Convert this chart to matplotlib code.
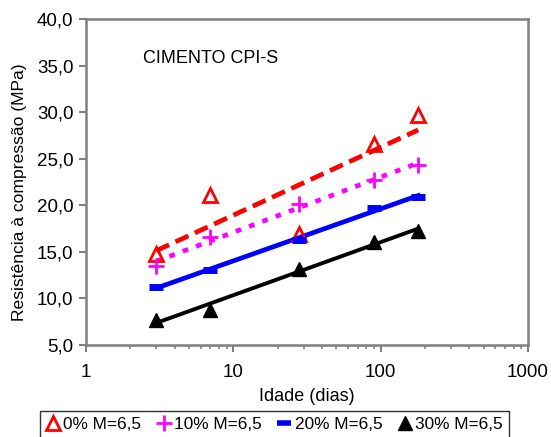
import numpy as np
import matplotlib
matplotlib.use("Agg")
import matplotlib.pyplot as plt
from matplotlib.lines import Line2D
from matplotlib.ticker import FixedLocator, FuncFormatter, LogLocator, NullFormatter

plt.rcParams['font.family'] = ['Liberation Sans', 'DejaVu Sans']

idade = [3, 7, 28, 90, 180]
s0 = [14.8, 21.1, 16.9, 26.6, 29.7]
s10 = [13.5, 16.6, 20.1, 22.7, 24.3]
s20 = [11.2, 13.1, 16.3, 19.7, 20.9]
s30 = [7.7, 8.8, 13.2, 16.1, 17.2]
labels = ['0% M=6,5', '10% M=6,5', '20% M=6,5', '30% M=6,5']
yticks = [5, 10, 15, 20, 25, 30, 35, 40]
xticks = [1, 10, 100, 1000]

fig = plt.figure(figsize=(5.51, 4.37), dpi=100)
ax = fig.add_axes([0.156, 0.2105, 0.802, 0.746])

x = np.array(idade, dtype=float)
lx = np.log10(x)

def trend(y):
    a, b = np.polyfit(lx, np.array(y), 1)
    return a * lx + b

# trend lines
ax.plot(x, trend(s0), color='#ff0000', lw=3.4, linestyle=(0, (3, 1.5)), zorder=2)
ax.plot(x, trend(s10), color='#ff00ff', lw=3.4, linestyle=(0, (1.2, 1.8)), zorder=2)
ax.plot(x, trend(s20), color='#0000ff', lw=3.4, zorder=2)
ax.plot(x, trend(s30), color='#000000', lw=2.8, zorder=2)

# markers
ax.plot(x, s0, ls='none', marker='^', ms=9.5, mfc='none', mec='#ff0000', mew=2, zorder=3)
ax.plot(x, s10, ls='none', marker='+', ms=11, mec='#ff00ff', mew=2, zorder=3)
ax.plot(x, s20, ls='none', marker='_', ms=10, mec='#0000ff', mew=5, zorder=3)
ax.plot(x, s30, ls='none', marker='^', ms=10, mfc='#000000', mec='#000000', mew=1, zorder=3)

ax.set_xscale('log')
ax.set_xlim(1, 1000)
ax.set_ylim(5, 40)
ax.xaxis.set_major_locator(FixedLocator(xticks))
ax.xaxis.set_major_formatter(FuncFormatter(lambda v, p: f'{v:g}'))
ax.xaxis.set_minor_locator(LogLocator(base=10, subs=np.arange(2, 10)))
ax.xaxis.set_minor_formatter(NullFormatter())
ax.yaxis.set_major_locator(FixedLocator(yticks))
ax.yaxis.set_major_formatter(FuncFormatter(lambda v, p: f'{v:.1f}'.replace('.', ',')))

for sp in ax.spines.values():
    sp.set_color('#808080')
    sp.set_linewidth(1.8)
ax.tick_params(axis='both', which='major', direction='out', length=5, width=1.5,
               color='#808080', labelsize=13.5, labelcolor='black')
ax.tick_params(axis='x', which='major', pad=9)
ax.tick_params(axis='y', which='major', pad=4)
ax.tick_params(axis='x', which='minor', direction='out', length=3, width=1.2, color='#808080')

ax.set_xlabel('Idade (dias)', fontsize=13, labelpad=5)
ax.set_ylabel('Resistência à compressão (MPa)', fontsize=12.6)
ax.yaxis.set_label_coords(-0.133, 0.47)

ax.text(0.13, 0.88, 'CIMENTO CPI-S', transform=ax.transAxes, fontsize=13,
        ha='left', va='center')

handles = [
    Line2D([], [], ls='none', marker='^', ms=9.5, mfc='none', mec='#ff0000', mew=2),
    Line2D([], [], ls='none', marker='+', ms=11, mec='#ff00ff', mew=2),
    Line2D([], [], ls='none', marker='_', ms=10, mec='#0000ff', mew=4),
    Line2D([], [], ls='none', marker='^', ms=10, mfc='#000000', mec='#000000'),
]
leg = fig.legend(handles, labels, loc='lower center', bbox_to_anchor=(0.498, -0.002),
                 ncol=4, fontsize=12.4, frameon=True, fancybox=False, edgecolor='black',
                 handlelength=0.8, handletextpad=0.2, columnspacing=0.9,
                 borderpad=0.35, borderaxespad=0)
leg.get_frame().set_linewidth(1.0)

fig.savefig('out.png', dpi=100)
